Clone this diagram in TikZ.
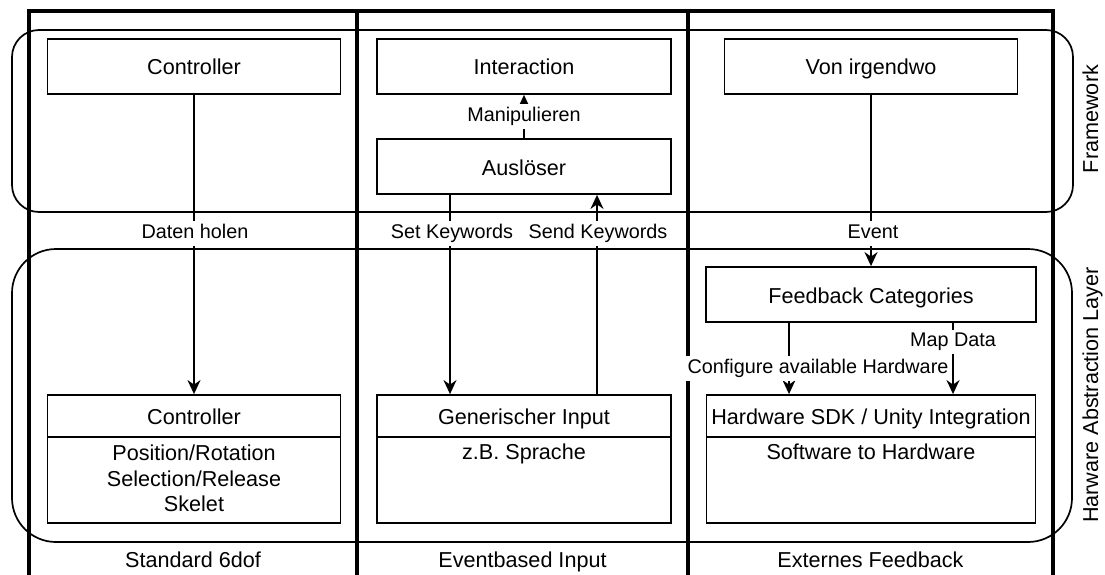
\documentclass[tikz,border=0pt]{standalone}
\usepackage{fontspec}
\setmainfont{Liberation Sans}
\usetikzlibrary{arrows.meta}

\begin{document}
\begin{tikzpicture}[x=1pt,y=-1pt,
  colline/.style={line width=3.4pt},
  lane/.style={draw, line width=1.7pt, rounded corners=#1, inner sep=0pt},
  box/.style={draw, line width=1.8pt, minimum height=55pt, inner sep=0pt,
    font=\fontsize{21.6}{26}\selectfont, text height=18.5pt, text depth=1.5pt},
  hdr/.style={box, minimum height=42pt},
  bodybox/.style={draw, line width=1.8pt, minimum height=86pt, inner sep=0pt},
  bodytxt/.style={font=\fontsize{21.6}{26}\selectfont, anchor=base, inner sep=0pt},
  sidetxt/.style={font=\fontsize{21.6}{26}\selectfont, inner sep=0pt,
    text height=18.5pt, text depth=1.5pt, rotate=90},
  lbl/.style={fill=white, inner xsep=1.5pt, inner ysep=2.5pt,
    font=\fontsize{19.8}{24}\selectfont, text height=14.85pt, text depth=4.95pt},
  arr/.style={line width=1.8pt, -{Stealth[length=14pt,width=13pt,inset=4.5pt]}},
]
\useasboundingbox (0,0) rectangle (1105,575);

% column frame
\draw[colline] (29,575) -- (29,11) -- (1053,11) -- (1053,575);
\draw[colline] (357,11) -- (357,575);
\draw[colline] (688,11) -- (688,575);

% layers
\node[lane=27pt, minimum width=1061pt, minimum height=182pt] (fwlane) at (542.5,121) {};
\node[lane=44pt, minimum width=1060pt, minimum height=293pt] (hallane) at (542,395.5) {};
\node[sidetxt] (fwlbl) at (1089.5,119) {Framework};
\node[sidetxt] (hallbl) at (1089.5,395) {Harware Abstraction Layer};

% column titles
\node[bodytxt] (t1) at (193,567.5) {Standard 6dof};
\node[bodytxt] (t2) at (522.5,567.5) {Eventbased Input};
\node[bodytxt] (t3) at (870.5,567.5) {Externes Feedback};

% framework boxes
\node[box, minimum width=293pt] (ctlA) at (194,66.5) {Controller};
\node[box, minimum width=294pt] (inter) at (524,66.5) {Interaction};
\node[box, minimum width=294pt] (ausl) at (524,166.5) {Auslöser};
\node[box, minimum width=293pt] (von) at (871,66.5) {Von irgendwo};

% abstraction layer boxes
\node[box, minimum width=330pt] (fb) at (871,294.5) {Feedback Categories};

\node[hdr, minimum width=293pt] (ctlB) at (194,416) {Controller};
\node[bodybox, minimum width=293pt] (ctlBbody) at (194,480) {};
\node[bodytxt] (ctlBl1) at ([yshift=-24pt]ctlBbody.north) {Position/Rotation};
\node[bodytxt] (ctlBl2) at ([yshift=-50pt]ctlBbody.north) {Selection/Release};
\node[bodytxt] (ctlBl3) at ([yshift=-75pt]ctlBbody.north) {Skelet};

\node[hdr, minimum width=294pt] (gen) at (524,416) {Generischer Input};
\node[bodybox, minimum width=294pt] (genbody) at (524,480) {};
\node[bodytxt] (genl1) at ([yshift=-23pt]genbody.north) {z.B. Sprache};

\node[hdr, minimum width=329pt] (hw) at (871,416) {Hardware SDK / Unity Integration};
\node[bodybox, minimum width=329pt] (hwbody) at (871,480) {};
\node[bodytxt] (hwl1) at ([yshift=-23pt]hwbody.north) {Software to Hardware};

% connectors
\draw[arr] (ctlA) -- node[lbl, pos=0.462, xshift=1pt] (eDaten) {Daten holen} (ctlB);
\draw[arr] (ausl) -- node[lbl, pos=0.5] (eManip) {Manipulieren} (inter);
\draw[arr] ([xshift=-74pt]ausl.south) -- node[lbl, pos=0.194, xshift=2pt] (eSet) {Set Keywords} ([xshift=-74pt]gen.north);
\draw[arr] ([xshift=73pt]gen.north) -- node[lbl, pos=0.806, xshift=1pt] (eSend) {Send Keywords} ([xshift=73pt]ausl.south);
\draw[arr] (von) -- node[lbl, pos=0.809, xshift=2pt] (eEvent) {Event} (fb);
\draw[arr] ([xshift=-82pt]fb.south) -- node[lbl, pos=0.644, xshift=29pt] (eConf) {Configure available Hardware} ([xshift=-82pt]hw.north);
\draw[arr] ([xshift=82pt]fb.south) -- node[lbl, pos=0.267] (eMap) {Map Data} ([xshift=82pt]hw.north);
\end{tikzpicture}
\end{document}
